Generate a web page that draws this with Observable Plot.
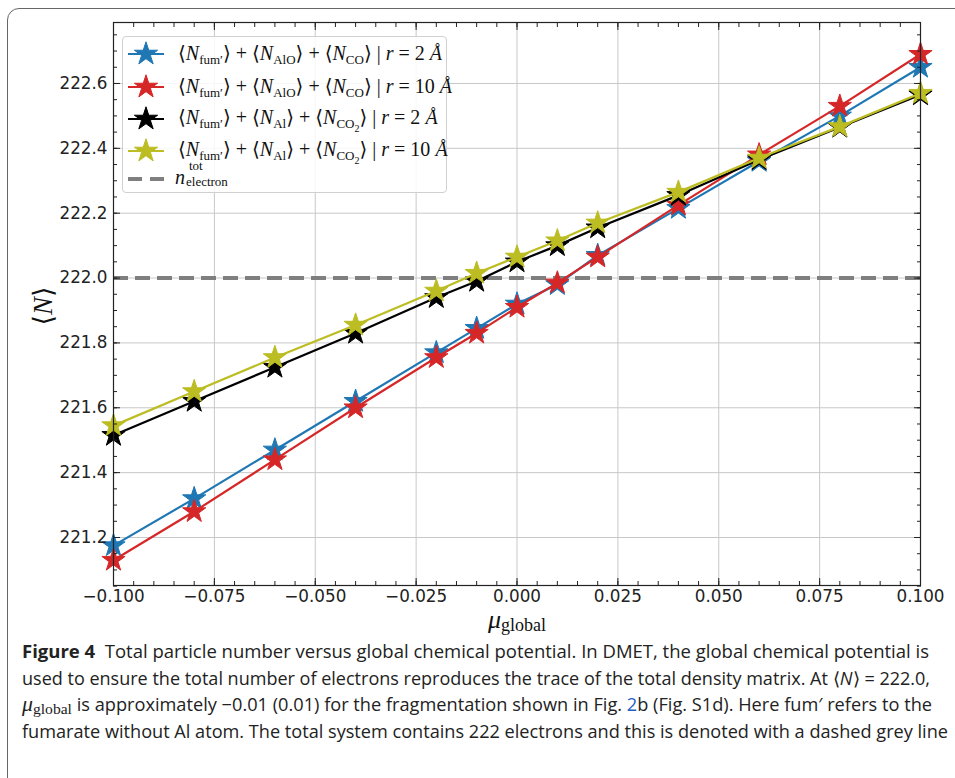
<!DOCTYPE html>
<html>
<head>
<meta charset="utf-8">
<script src="https://cdn.jsdelivr.net/npm/d3@7"></script>
<script src="https://cdn.jsdelivr.net/npm/@observablehq/plot@0.6"></script>
<style>
  html, body { margin: 0; padding: 0; background: #fff; overflow: hidden; }
  #wrap { position: relative; width: 955px; height: 778px; }
  #box { position: absolute; left: 7px; top: 8px; width: 970px; height: 800px;
         border: 1.5px solid #666; border-radius: 12px; box-sizing: border-box; }
  #chart { position: absolute; left: 0; top: 0; }
  #legend { position: absolute; left: 122px; top: 36px; width: 325px; height: 157px;
            border: 1px solid #d0d0d0; border-radius: 4px; background: rgba(255,255,255,0.85);
            box-sizing: border-box; }
  .lrow { position: absolute; left: 0; height: 30px; display: flex; align-items: center; }
  .lrow svg { margin-left: 5px; }
  .ltext { position: absolute; left: 55px; white-space: nowrap; font-family: "Liberation Serif", "DejaVu Serif", serif;
           font-size: 20px; color: #111; }
  .ltext sub { font-size: 13px; vertical-align: -4px; }
  #caption { position: absolute; left: 22px; top: 638px; font-family: "Open Sans", "Noto Sans", sans-serif;
             font-size: 17.5px; color: #222; }
  .cline { white-space: nowrap; height: 26.5px; line-height: 26.5px; transform-origin: left center; }
  .mu { font-family: "Liberation Serif", serif; font-style: italic; font-size: 21px; }
  .mu sub { font-style: normal; font-size: 15px; vertical-align: -3px; }
</style>
</head>
<body>
<div id="wrap">
  <div id="box"></div>
  <div id="chart"></div>
  <div id="legend"></div>
  <div id="caption"></div>
</div>
<script>
// ---- data ----
const mu = [-0.1, -0.08, -0.06, -0.04, -0.02, -0.01, 0, 0.01, 0.02, 0.04, 0.06, 0.08, 0.1];
const nBlue   = [221.175, 221.32, 221.47, 221.62, 221.77, 221.845, 221.92, 221.98, 222.07, 222.215, 222.36, 222.50, 222.65];
const nRed    = [221.13, 221.28, 221.44, 221.60, 221.755, 221.83, 221.91, 221.985, 222.065, 222.225, 222.38, 222.53, 222.69];
const nBlack  = [221.515, 221.62, 221.725, 221.83, 221.94, 221.99, 222.05, 222.10, 222.155, 222.255, 222.365, 222.465, 222.565];
const nYellow = [221.545, 221.65, 221.755, 221.855, 221.96, 222.015, 222.065, 222.115, 222.17, 222.265, 222.37, 222.467, 222.57];
const seriesNames = ["fAlOCO_2", "fAlOCO_10", "fAlCO2_2", "fAlCO2_10"];
const seriesColors = ["#1f77b4", "#d62728", "#000000", "#bcbd22"];
const seriesValues = [nBlue, nRed, nBlack, nYellow];
const nTotal = 222.0;
const xTicks = [-0.1, -0.075, -0.05, -0.025, 0, 0.025, 0.05, 0.075, 0.1];
const yTicks = [221.2, 221.4, 221.6, 221.8, 222.0, 222.2, 222.4, 222.6];
const xMinor = d3.range(-20, 21).map(i => i * 0.005);
const yMinor = d3.range(221.05, 222.80, 0.05).map(v => +v.toFixed(2));

const legendLabels = [
  '⟨<i>N</i><sub>fum′</sub>⟩ + ⟨<i>N</i><sub>AlO</sub>⟩ + ⟨<i>N</i><sub>CO</sub>⟩ | <i>r</i> = 2 <i>Å</i>',
  '⟨<i>N</i><sub>fum′</sub>⟩ + ⟨<i>N</i><sub>AlO</sub>⟩ + ⟨<i>N</i><sub>CO</sub>⟩ | <i>r</i> = 10 <i>Å</i>',
  '⟨<i>N</i><sub>fum′</sub>⟩ + ⟨<i>N</i><sub>Al</sub>⟩ + ⟨<i>N</i><sub>CO<sub style="font-size:10px">2</sub></sub>⟩ | <i>r</i> = 2 <i>Å</i>',
  '⟨<i>N</i><sub>fum′</sub>⟩ + ⟨<i>N</i><sub>Al</sub>⟩ + ⟨<i>N</i><sub>CO<sub style="font-size:10px">2</sub></sub>⟩ | <i>r</i> = 10 <i>Å</i>'
];

// ---- table ----
const rows = [];
seriesNames.forEach((s, i) => mu.forEach((m, j) => rows.push({series: s, mu: m, N: seriesValues[i][j]})));

const fmtMinus = d => d3.format(".3f")(d).replace("-", "−");

const marks = [
  Plot.gridX(xTicks, {stroke: "#c8c8c8", strokeOpacity: 1, strokeWidth: 1}),
  Plot.gridY(yTicks, {stroke: "#c8c8c8", strokeOpacity: 1, strokeWidth: 1}),
  Plot.ruleY([nTotal], {stroke: "#7f7f7f", strokeWidth: 4, strokeDasharray: "15,7"})
];
seriesNames.forEach((s, i) => {
  const data = rows.filter(r => r.series === s);
  marks.push(Plot.line(data, {x: "mu", y: "N", stroke: seriesColors[i], strokeWidth: 2.2}));
  marks.push(Plot.dot(data, {x: "mu", y: "N", symbol: "star", r: 7.3, fill: seriesColors[i],
                             stroke: seriesColors[i], strokeWidth: 1}));
});
marks.push(
  Plot.frame({stroke: "#222", strokeWidth: 1.2}),
  // tick labels
  Plot.axisX(xTicks, {anchor: "bottom", tickSize: 0, tickPadding: 5, tickFormat: fmtMinus, label: null}),
  Plot.axisY(yTicks, {anchor: "left", tickSize: 0, tickPadding: 6, tickFormat: d3.format(".1f"), label: null}),
  // inward major ticks
  Plot.axisX(xTicks, {anchor: "bottom", tickSize: -7, tickFormat: () => "", label: null}),
  Plot.axisX(xTicks, {anchor: "top", tickSize: -7, tickFormat: () => "", label: null}),
  Plot.axisY(yTicks, {anchor: "left", tickSize: -7, tickFormat: () => "", label: null}),
  Plot.axisY(yTicks, {anchor: "right", tickSize: -7, tickFormat: () => "", label: null}),
  // inward minor ticks
  Plot.axisX(xMinor, {anchor: "bottom", tickSize: -4, tickFormat: () => "", label: null}),
  Plot.axisX(xMinor, {anchor: "top", tickSize: -4, tickFormat: () => "", label: null}),
  Plot.axisY(yMinor, {anchor: "left", tickSize: -4, tickFormat: () => "", label: null}),
  Plot.axisY(yMinor, {anchor: "right", tickSize: -4, tickFormat: () => "", label: null})
);

const chart = Plot.plot({
  width: 955, height: 640,
  marginLeft: 113, marginRight: 35, marginTop: 22, marginBottom: 55,
  x: {domain: [-0.1, 0.1]},
  y: {domain: [221.052, 222.788]},
  style: {fontFamily: "DejaVu Sans", fontSize: "16.8px", color: "#222", background: "transparent", overflow: "visible"},
  marks
});
document.getElementById("chart").appendChild(chart);

// axis titles
const svg = d3.select(chart);
const xl = svg.append("text").attr("x", 517).attr("y", 628).attr("text-anchor", "middle")
  .attr("font-family", "Liberation Serif, DejaVu Serif, serif").attr("fill", "#111");
xl.append("tspan").attr("font-style", "italic").attr("font-size", 26).text("μ");
xl.append("tspan").attr("font-size", 18).attr("dy", 3).text("global");
svg.append("text").attr("transform", "translate(52,306) rotate(-90)").attr("text-anchor", "middle")
  .attr("font-family", "Liberation Serif, DejaVu Serif, serif").attr("font-size", 27).attr("fill", "#111")
  .html('⟨<tspan font-style="italic">N</tspan>⟩');

// legend
const legend = document.getElementById("legend");
const starPath = d3.symbol(d3.symbolStar, Math.PI * 7.3 * 7.3)();
const rowTops = [2, 35, 67, 99];
seriesNames.forEach((s, i) => {
  const row = document.createElement("div");
  row.className = "lrow";
  row.style.top = rowTops[i] + "px";
  row.innerHTML = `<svg width="36" height="30"><line x1="0" x2="36" y1="15" y2="15" stroke="${seriesColors[i]}" stroke-width="2.2"/>
    <path d="${starPath}" transform="translate(18,15)" fill="${seriesColors[i]}" stroke="${seriesColors[i]}"/></svg>
    <span class="ltext">${legendLabels[i]}</span>`;
  legend.appendChild(row);
});
const drow = document.createElement("div");
drow.className = "lrow";
drow.style.top = "127px";
drow.innerHTML = `<svg width="36" height="30"><line x1="0" x2="36" y1="15" y2="15" stroke="#7f7f7f" stroke-width="4" stroke-dasharray="14,8"/></svg>
  <span class="ltext" style="left:52px"><i>n</i><span style="position:relative;display:inline-block;font-size:13px;line-height:13px;width:62px;height:20px;vertical-align:-8px;margin-left:1px"><span style="position:absolute;left:3px;top:-13px">tot</span><span style="position:absolute;left:0;top:3px">electron</span></span></span>`;
legend.appendChild(drow);

// caption
const captionLines = [
  '<b style="font-weight:700">Figure 4</b>&nbsp; Total particle number versus global chemical potential. In DMET, the global chemical potential is',
  'used to ensure the total number of electrons reproduces the trace of the total density matrix. At ⟨<i>N</i>⟩ = 222.0,',
  '<span class="mu">μ<sub>global</sub></span> is approximately −0.01 (0.01) for the fragmentation shown in Fig. <span style="color:#1f5fbf">2</span>b (Fig. S1d). Here fum′ refers to the',
  'fumarate without Al atom. The total system contains 222 electrons and this is denoted with a dashed grey line'
];
const captionWidths = [907, 908, 910, 926];
const cap = document.getElementById("caption");
captionLines.forEach((t, i) => {
  const d = document.createElement("div");
  d.className = "cline";
  d.innerHTML = `<span>${t}</span>`;
  cap.appendChild(d);
  const w = d.firstChild.getBoundingClientRect().width;
  d.style.transform = `scaleX(${captionWidths[i] / w})`;
});
</script>
</body>
</html>
